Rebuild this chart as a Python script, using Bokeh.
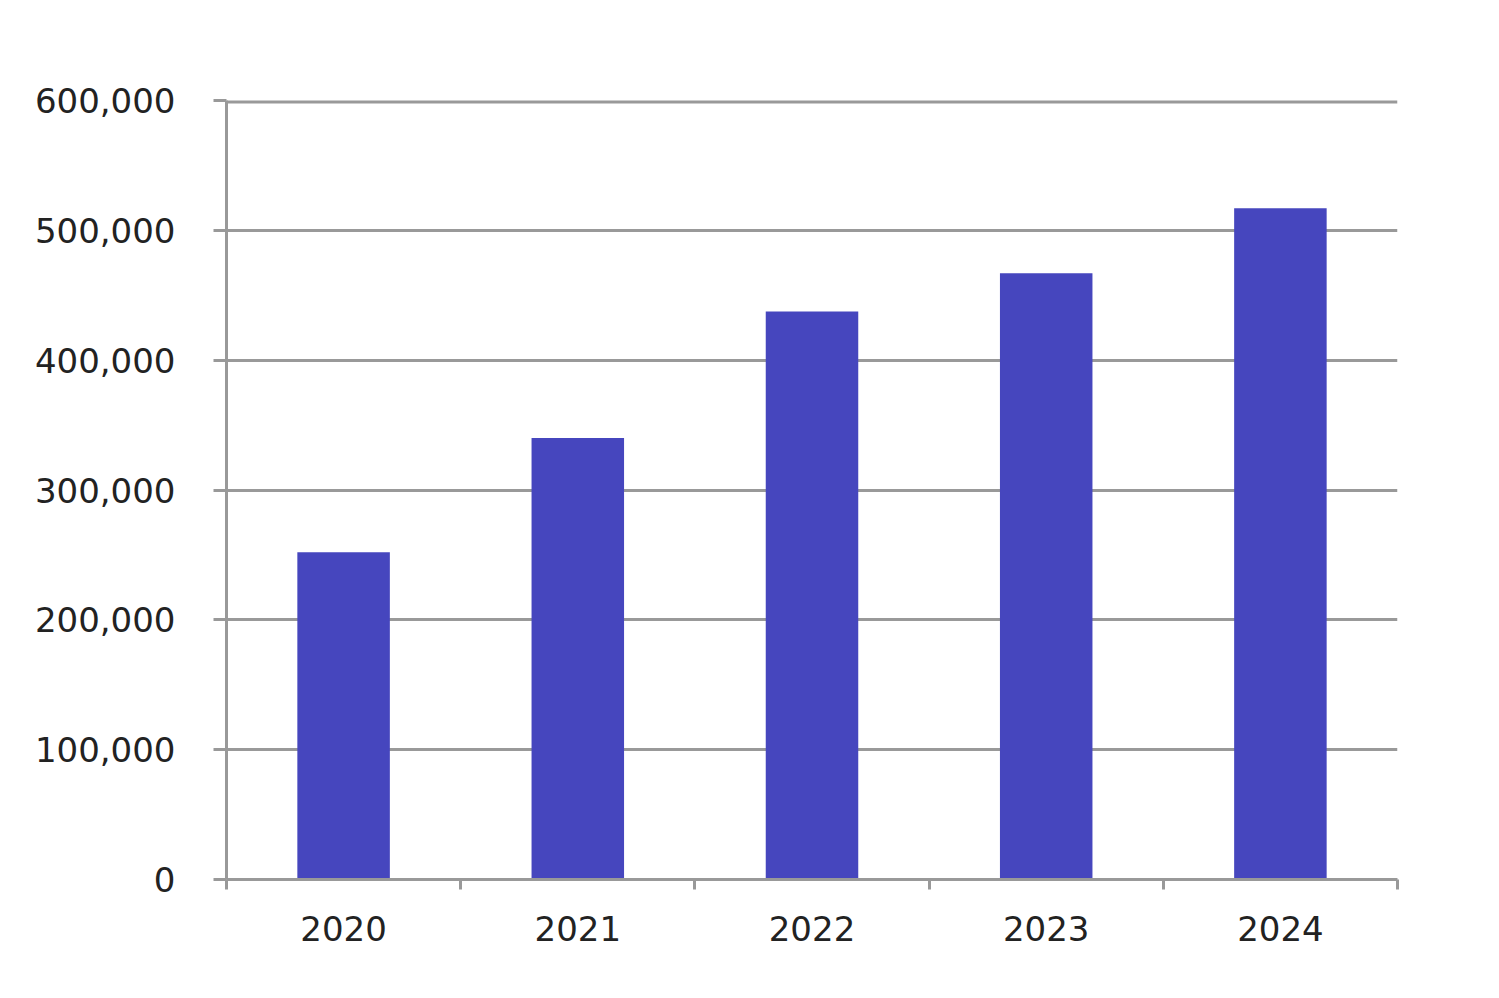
from bokeh.plotting import figure
from bokeh.models import FixedTicker, NumeralTickFormatter, Range1d, ColumnDataSource, Span
from bokeh.embed import file_html
from bokeh.resources import INLINE

years = ["2020", "2021", "2022", "2023", "2024"]
values = [252000, 340000, 437500, 467000, 517000]
y_ticks = [0, 100000, 200000, 300000, 400000, 500000, 600000]
y_max = 600000

x_pos = [i + 0.5 for i in range(len(years))]
src = ColumnDataSource(dict(x=x_pos, top=values, year=years))

GREY = "#999999"
TXT = "#222222"
FONT = "DejaVu Sans"

p = figure(width=1480, height=980, output_backend="svg", toolbar_location=None,
           x_range=Range1d(0, len(years)), y_range=Range1d(0, y_max),
           min_border_left=226, min_border_right=83, min_border_top=100, min_border_bottom=101)
p.outline_line_color = None
p.background_fill_color = "white"
p.border_fill_color = "white"

# top gridline (Bokeh skips grid lines at the range edge; half of it is clipped)
p.add_layout(Span(location=y_max, dimension="width", line_color=GREY, line_width=6, level="underlay"))

p.vbar(x="x", top="top", bottom=0, width=0.395, source=src,
       fill_color="#4646BE", line_color=None)

# y axis
p.yaxis.ticker = FixedTicker(ticks=y_ticks)
p.yaxis.formatter = NumeralTickFormatter(format="0,0")
p.yaxis.axis_line_color = GREY
p.yaxis.axis_line_width = 3
p.yaxis.major_tick_line_color = GREY
p.yaxis.major_tick_line_width = 3
p.yaxis.major_tick_out = 13
p.yaxis.major_tick_in = 0
p.yaxis.minor_tick_line_color = None
p.yaxis.major_label_text_font = FONT
p.yaxis.major_label_text_font_size = "34px"
p.yaxis.major_label_text_color = TXT
p.yaxis.major_label_standoff = 38

# x axis
p.xaxis.ticker = FixedTicker(ticks=x_pos, minor_ticks=list(range(len(years) + 1)))
p.xaxis.major_label_overrides = {x: y for x, y in zip(x_pos, years)}
p.xaxis.axis_line_color = GREY
p.xaxis.axis_line_width = 3
p.xaxis.major_tick_line_color = None
p.xaxis.major_tick_out = 10
p.xaxis.major_tick_in = 0
p.xaxis.minor_tick_line_color = GREY
p.xaxis.minor_tick_line_width = 3
p.xaxis.minor_tick_out = 10
p.xaxis.minor_tick_in = 0
p.xaxis.major_label_text_font = FONT
p.xaxis.major_label_text_font_size = "34px"
p.xaxis.major_label_text_color = TXT
p.xaxis.major_label_standoff = 26

p.xgrid.visible = False
p.ygrid.grid_line_color = GREY
p.ygrid.grid_line_width = 3

open("out.html", "w").write(file_html(p, INLINE))
